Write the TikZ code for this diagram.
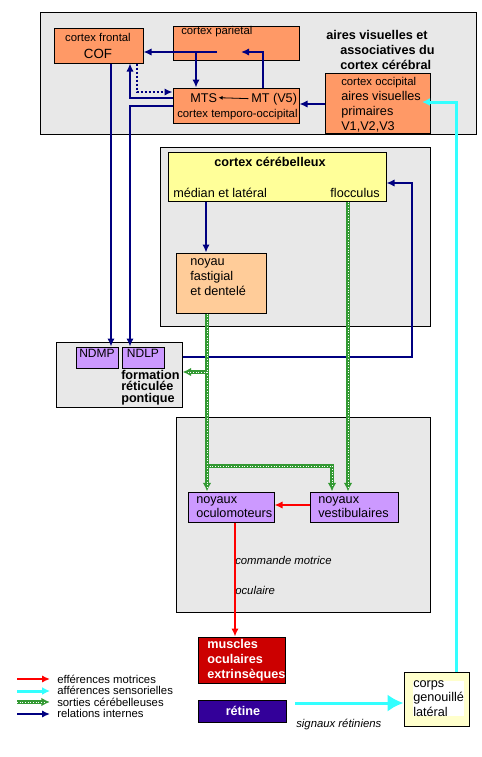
\documentclass[tikz,border=0pt]{standalone}
\usepackage{fontspec}
\setmainfont{Liberation Sans}
\usetikzlibrary{arrows.meta, fit}
\definecolor{cgris}{HTML}{E8E8E8}
\definecolor{corange}{HTML}{FF9966}
\definecolor{cjaune}{HTML}{FFFF99}
\definecolor{cpeche}{HTML}{FFCC99}
\definecolor{cmauve}{HTML}{CC99FF}
\definecolor{crougebox}{HTML}{CC0000}
\definecolor{cindigo}{HTML}{330099}
\definecolor{ccreme}{HTML}{FFFFCC}
\definecolor{cnavy}{HTML}{000080}
\definecolor{ccyan}{HTML}{33FFFF}
\definecolor{cvert}{HTML}{339933}
\definecolor{crouge}{HTML}{FF0000}

\begin{document}
\begin{tikzpicture}[x=0.75pt, y=-0.75pt,
  cadre/.style={draw=black, line width=0.75pt, inner sep=0pt},
  zone/.style={cadre, fill=cgris},
  boite/.style={cadre, fill=corange},
  mauve/.style={cadre, fill=cmauve, font=\fontsize{9}{11}\selectfont},
  txt/.style={font=\fontsize{8.5}{11}\selectfont, anchor=base west, inner sep=0pt, align=left},
  txtg/.style={txt, font=\fontsize{9.5}{11}\selectfont},
  txtit/.style={txt, font=\itshape\fontsize{8.5}{11}\selectfont},
  titre/.style={txt, font=\bfseries\fontsize{9.5}{11.25}\selectfont},
  blanc/.style={titre, text=white},
  rel/.style={draw=cnavy, line width=1.5pt, -{Latex[length=6pt,width=5.5pt]}},
  reldot/.style={rel, dash pattern=on 1.5pt off 1.5pt},
  relfin/.style={draw=black, line width=0.6pt, -{Latex[length=3pt,width=3pt]}, shorten >=1pt, shorten <=2pt},
  efferent/.style={draw=crouge, line width=1.5pt, -{Latex[length=6pt,width=5.5pt]}},
  afferent/.style={draw=ccyan, line width=2.25pt, -{Latex[length=6pt,width=6pt]}},
  afferentgros/.style={afferent, -{Latex[length=12pt,width=13pt]}},
  sortie/.style={draw=cvert, line width=2.4pt, -{Latex[length=6.5pt,width=6.5pt]},
                 postaction={draw=white, -, line width=0.6pt, shorten >=3pt, dash pattern=on 0.6pt off 1.4pt}}
]
\useasboundingbox (0,0) rectangle (482,757);

% cortex cerebral
\node[zone, fit={(40,12) (476,134)}] (cerveau) {};
\node[boite, fit={(54,28) (143,63)}] (cof) {};
\node[boite, fit={(173,26) (299,60)}] (par) {};
\node[boite, fit={(173,88) (299,123)}] (mt) {};
\node[boite, fit={(325,73) (430,133)}] (occ) {};
\node[txt, anchor=base] (tcof1) at (98,41) {cortex frontal};
\node[txtg, anchor=base, font=\fontsize{10}{12}\selectfont] (tcof2) at (98,58) {COF};
\node[txt] (tpar) at (181,34) {cortex parietal};
\node[txtg] (tmts) at (190,102) {MTS};
\node[txtg] (tmt) at (251,102) {MT (V5)};
\node[txt] (ttemp) at (177,117) {cortex temporo-occipital};
\node[titre] (tvis) at (326,69) {aires visuelles et\\\hspace*{10.5pt}associatives du\\\hspace*{10.5pt}cortex cérébral};
\node[txt] (tocc1) at (341,85) {cortex occipital};
\node[txtg, font=\fontsize{9.5}{10.9}\selectfont] (tocc2) at (341,130) {aires visuelles\\primaires\\V1,V2,V3};

% cervelet
\node[zone, fit={(160,147) (430,326)}] (cervelet) {};
\node[cadre, fill=cjaune, fit={(168,152) (386,201)}] (cortcb) {};
\node[titre, anchor=base] (tcb) at (270,166) {cortex cérébelleux};
\node[txtg] (tmed) at (173,197) {médian et latéral};
\node[txtg, anchor=base east] (tfloc) at (380,197) {flocculus};
\node[cadre, fill=cpeche, fit={(176,253) (266,313)}] (fast) {};
\node[txtg, font=\fontsize{9.5}{10.9}\selectfont] (tfast) at (190,295) {noyau\\fastigial\\et dentelé};

% formation reticulee
\node[zone, fit={(56,342) (182,407)}] (form) {};
\node[mauve, fit={(76,347) (118,368)}] (ndmp) {NDMP};
\node[mauve, fit={(122,347) (164,368)}] (ndlp) {NDLP};
\node[titre, font=\bfseries\fontsize{9.5}{8.3}\selectfont] (tform) at (121,402) {formation\\réticulée\\pontique};

% tronc cerebral
\node[zone, fit={(176,417) (430,612)}] (tronc) {};
\node[mauve, fit={(188,492) (274,522)}] (oculo) {};
\node[txtg, font=\fontsize{9.5}{10.5}\selectfont] (toculo) at (196,517) {noyaux\\oculomoteurs};
\node[mauve, fit={(310,492) (398,522)}] (vest) {};
\node[txtg, font=\fontsize{9.5}{10.5}\selectfont] (tvest) at (318,517) {noyaux\\vestibulaires};
\node[txtit] (tcmd) at (235,564) {commande motrice};
\node[txtit] (tocu) at (235,594) {oculaire};

% peripherie
\node[cadre, fill=crougebox, fit={(198,637) (285,683)}] (muscles) {};
\node[blanc] (tmus) at (207,678) {muscles\\oculaires\\extrinsèques};
\node[cadre, fill=cindigo, fit={(198,700) (286,722)}] (retine) {};
\node[blanc, anchor=base] (tret) at (243,715) {rétine};
\node[txtit] (tsig) at (296,727) {signaux rétiniens};
\node[cadre, fill=ccreme, fit={(404,672) (469,726)}] (cgl) {};
\node[txtg, fill=white, font=\fontsize{9.5}{10.7}\selectfont] (tcgl) at (413,716) {corps\\genouillé\\latéral};

% relations internes
\coordinate (pA) at (217,52);
\coordinate (pB) at (196,52);
\coordinate (pC) at (241,52);
\coordinate (mA) at (263,0);
\draw[rel] (pA) -- (pA -| cof.east);
\draw[rel] (pB) -- (pB |- mt.north);
\draw[rel] (mt.north -| mA) |- (pC);
\draw[relfin] (tmt.west) -- (tmts.east);
\coordinate (d1) at (137,92);
\draw[reldot] (cof.south -| d1) |- (mt.west |- d1);
\coordinate (d2) at (130,98);
\draw[rel] (mt.west |- d2) -| (cof.south -| d2);
\coordinate (d3) at (111,0);
\draw[rel] (cof.south -| d3) -- (ndmp.north -| d3);
\coordinate (d4) at (130,106);
\draw[rel] (mt.west |- d4) -| (ndlp.north -| d4);
\coordinate (d5) at (0,104);
\draw[rel] (occ.west |- d5) -- (mt.east |- d5);
\coordinate (n1) at (206,0);
\draw[rel] (cortcb.south -| n1) -- (fast.north -| n1);
\coordinate (n2) at (0,357);
\coordinate (n3) at (412,183);
\draw[rel] (form.east |- n2) -| (n3) -- (cortcb.east |- n3);

% efferences motrices
\coordinate (e1) at (0,505);
\draw[efferent] (vest.west |- e1) -- (oculo.east |- e1);
\coordinate (e2) at (235,0);
\draw[efferent] (oculo.south -| e2) -- (muscles.north -| e2);

% afferences sensorielles
\coordinate (c1) at (456,0);
\coordinate (c2) at (422,102);
\draw[afferent] (cgl.north -| c1) |- (c2);
\coordinate (r1) at (295,703);
\draw[afferentgros] (r1) -- (cgl.west |- r1);

% sorties cerebelleuses
\coordinate (g1) at (207,0);
\draw[sortie] (fast.south -| g1) -- (oculo.north -| g1);
\coordinate (g2) at (207,372);
\draw[sortie] (g2) -- (form.east |- g2);
\coordinate (g3) at (207,466);
\coordinate (g4) at (332,0);
\draw[sortie] (g3) -| (vest.north -| g4);
\coordinate (g5) at (348,0);
\draw[sortie] (cortcb.south -| g5) -- (vest.north -| g5);

% legende
\coordinate (l1a) at (17,679); \coordinate (l1b) at (50,679);
\coordinate (l2a) at (17,691); \coordinate (l2b) at (50,691);
\coordinate (l3a) at (17,702); \coordinate (l3b) at (50,702);
\coordinate (l4a) at (17,714); \coordinate (l4b) at (50,714);
\draw[efferent] (l1a) -- (l1b);
\draw[afferent] (l2a) -- (l2b);
\draw[sortie] (l3a) -- (l3b);
\draw[rel] (l4a) -- (l4b);
\node[txt] (leg1) at (57,683) {efférences motrices};
\node[txt] (leg2) at (57,694) {afférences sensorielles};
\node[txt] (leg3) at (57,706) {sorties cérébelleuses};
\node[txt] (leg4) at (57,717) {relations internes};
\end{tikzpicture}
\end{document}
